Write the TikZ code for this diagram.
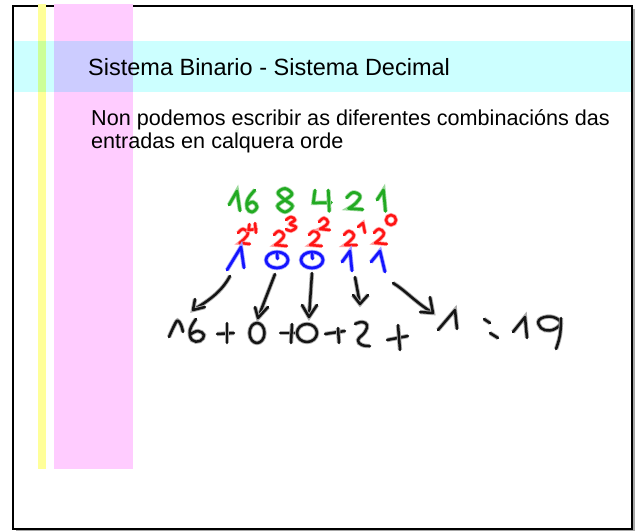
\documentclass[tikz,border=0pt]{standalone}
\usepackage{fontspec}
\setmainfont{Liberation Sans}
\definecolor{bandcyan}{HTML}{CCFFFF}
\definecolor{stripyellow}{HTML}{FFFF99}
\definecolor{strippink}{HTML}{FFCCFF}
\definecolor{mixpc}{HTML}{CCCCFF}
\definecolor{mixyc}{HTML}{CCFF99}
\definecolor{hgreen}{RGB}{34,170,34}
\definecolor{hred}{RGB}{255,20,20}
\definecolor{hblue}{RGB}{20,20,255}
\definecolor{hblack}{RGB}{20,20,20}
\tikzset{
  pen/.style={line width=2.7pt, line cap=round, line join=round},
  gpen/.style={pen, draw=hgreen, preaction={draw=hgreen!45, line width=4.3pt}},
  rpen/.style={pen, draw=hred, line width=2.5pt, preaction={draw=hred!40, line width=4pt}},
  bpen/.style={pen, draw=hblue, preaction={draw=hblue!40, line width=4.3pt}},
  kpen/.style={pen, draw=hblack, line width=2.5pt, preaction={draw=gray!65, line width=4.3pt}},
  titletext/.style={anchor=base west, inner sep=0pt, font=\fontsize{23.5}{28}\selectfont},
  bodytext/.style={anchor=base west, inner sep=0pt, font=\fontsize{21.6}{24}\selectfont},
}
\begin{document}
\begin{tikzpicture}[x=1pt,y=-1pt]
\useasboundingbox (0,0) rectangle (638,531);
% frame with shadow
\fill[gray!70] (15.5,8.5) rectangle (634.5,531);
\draw[fill=white, line width=2pt] (12.5,5.5) rectangle (631.5,529);
% cyan band
\fill[bandcyan] (13.5,41) rectangle (630.5,91.5);
% stripes
\fill[stripyellow] (37.7,4) rectangle (45.7,468.7);
\fill[strippink] (54,4) rectangle (132.7,468.7);
\fill[mixyc] (37.7,41) rectangle (45.7,91.5);
\fill[mixpc] (54,41) rectangle (132.7,91.5);
% texts
\node[titletext] (title) at (88,75) {Sistema Binario - Sistema Decimal};
\node[bodytext] (line1) at (91,125.5) {Non podemos escribir as diferentes combinacións das};
\node[bodytext] (line2) at (91,148) {entradas en calquera orde};
% green: 16 8 4 2 1
\draw[gpen] (229,205) -- (237,191) -- (240,211);
\draw[gpen] plot[smooth, tension=0.7] coordinates {(255,190) (248,199) (247,208) (252,212) (257,207) (253,202) (247,205)};
\draw[gpen] plot[smooth cycle, tension=0.6] coordinates {(285,200) (292,194) (285,188.5) (278,193) (285,200) (292.5,206) (285,212) (277.5,206)};
\draw[gpen] (315,190) -- (313.3,203) -- (331.5,202.5);
\draw[gpen] (328.3,190) -- (329.3,211.5);
\draw[gpen] plot[smooth, tension=0.7] coordinates {(346.5,198) (353,192.5) (360,196) (356,203) (348.5,208.5)} -- (363,209.5);
\draw[gpen] (377,200) -- (383.5,190) -- (385.5,211.5);
% red: powers of two
\draw[rpen] plot[smooth, tension=0.7] coordinates {(238,233) (243,229) (248,233) (245,238) (239.5,243)} -- (250,244);
\draw[rpen] (249.5,224) -- (248.5,230) -- (257,229);
\draw[rpen] (255,223) -- (256,233);
\draw[rpen] plot[smooth, tension=0.7] coordinates {(274,235) (279,231) (284,235) (281,240) (275,245)} -- (287,246);
\draw[rpen] plot[smooth, tension=0.7] coordinates {(286,220) (291,217) (295,220) (290,224) (296,227) (291,231) (286,229)};
\draw[rpen] plot[smooth, tension=0.7] coordinates {(309,235) (314,231) (319,235) (316,240) (310,245)} -- (322,246);
\draw[rpen] plot[smooth, tension=0.7] coordinates {(319,222) (324,218) (328,222) (325,226) (320,229)} -- (330,230);
\draw[rpen] plot[smooth, tension=0.7] coordinates {(344,235) (349,231) (354,235) (351,240) (345,245)} -- (357,245);
\draw[rpen] (358,227) -- (363,223) -- (365,233);
\draw[rpen] plot[smooth, tension=0.7] coordinates {(374,233) (379,229) (384,233) (381,238) (375,243)} -- (387,244);
\draw[rpen] (391,220) ellipse[x radius=5, y radius=5];
% blue: 1 0 0 1 1
\coordinate (b1) at (230,276);
\coordinate (b2) at (275,274);
\coordinate (b3) at (312,273);
\coordinate (b4) at (355,277);
\coordinate (b5) at (393,283);
\draw[bpen] (227,270) -- (241,247) -- (244,268);
\draw[bpen] (277,260) ellipse[x radius=11, y radius=8];
\draw[bpen] (277,253) -- (277.5,259);
\draw[bpen] (312,260) ellipse[x radius=11, y radius=8];
\draw[bpen] (312,253) -- (312.5,259);
\draw[bpen] (342,262) -- (350,251) -- (352,271);
\draw[bpen] (371,262) -- (380,251) -- (385,272);
% arrow tips
\coordinate (t1) at (193,310);
\coordinate (t2) at (258,318);
\coordinate (t3) at (309,317);
\coordinate (t4) at (360,304);
\coordinate (t5) at (433,313);
\draw[kpen] (b1) .. controls (222,291) and (210,300) .. (t1);
\draw[kpen] (195,299) -- (t1) -- (205,307);
\draw[kpen] (b2) -- (t2);
\draw[kpen] (255,307) -- (t2) -- (268,307);
\draw[kpen] (b3) -- (t3);
\draw[kpen] (302,305) -- (t3) -- (317,305);
\draw[kpen] (b4) -- (t4);
\draw[kpen] (353,295) -- (t4) -- (368,295);
\draw[kpen] (b5) .. controls (405,290) and (415,302) .. (t5);
\draw[kpen] (420,312) -- (t5) -- (430,297);
% bottom row: 16 + 0 +0 + 2 + 1 = 19
\draw[kpen] plot[smooth, tension=0.6] coordinates {(169,337) (173.5,327) (177.5,320.5) (181,325) (183,332)};
\draw[kpen] plot[smooth, tension=0.7] coordinates {(196,319) (190,330) (192,340) (200,341) (204,335) (198,331) (191,334)};
\draw[kpen] (217,334) -- (234,333);
\draw[kpen] (227,323) -- (227,343);
\draw[kpen] (257,333) ellipse[x radius=7.5, y radius=10];
\draw[kpen] (280,333) -- (296,333);
\draw[kpen] (292,324) -- (291,343);
\draw[kpen] (307,333) ellipse[x radius=10, y radius=9];
\draw[kpen] (325,334) -- (345,331);
\draw[kpen] (338,328) -- (339,343);
\draw[kpen] plot[smooth, tension=0.7] coordinates {(355,324) (362,322) (367,325) (365,332) (358,340) (362,345) (370,346)};
\draw[kpen] (387,340) -- (408,336);
\draw[kpen] (398,325) -- (400,350);
\draw[kpen] (438,330) -- (455,310) -- (457,329);
\draw[kpen] (484,319) -- (490,323);
\draw[kpen] (490,333) -- (498,338);
\draw[kpen] (513,332) -- (525,317) -- (527,338);
\draw[kpen] plot[smooth cycle, tension=0.7] coordinates {(560,321) (550,316.5) (539,320) (541,328) (550,330.5) (559,326)};
\draw[kpen] plot[smooth, tension=0.7] coordinates {(561,318) (560,335) (556,349)};
\end{tikzpicture}
\end{document}
